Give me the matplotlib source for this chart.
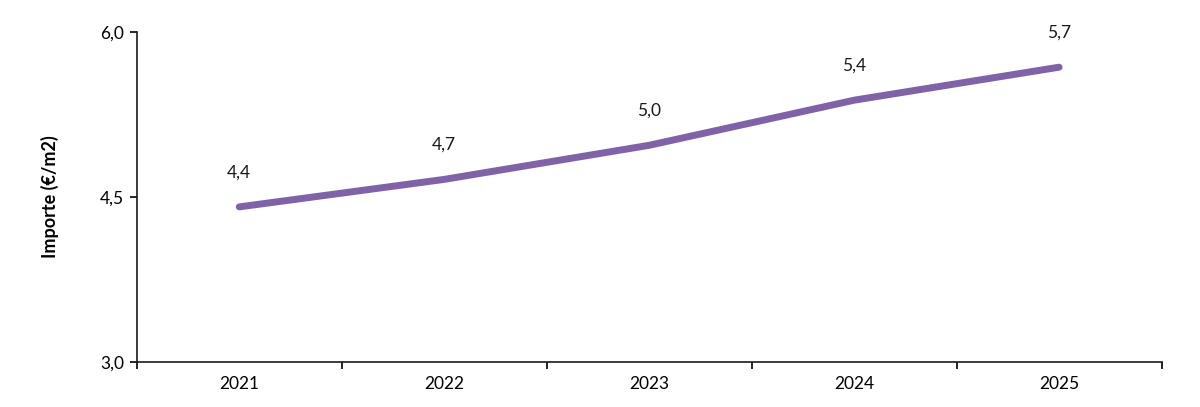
import matplotlib
matplotlib.use('Agg')
import matplotlib.pyplot as plt
from matplotlib.ticker import FixedLocator, FuncFormatter

years = ['2021', '2022', '2023', '2024', '2025']
importe = [4.41, 4.66, 4.97, 5.38, 5.68]
y_ticks = [3.0, 4.5, 6.0]

plt.rcParams['font.family'] = ['Lato', 'DejaVu Sans']

fig = plt.figure(figsize=(12, 4.07), dpi=100)
ax = fig.add_axes([0.114, 0.1106, 0.854, 0.8108])

x = list(range(len(years)))
ax.plot(x, importe, color='#7F62A8', linewidth=5, solid_capstyle='round')

for xi, v in zip(x, importe):
    ax.annotate(f'{v:.1f}'.replace('.', ','), (xi, v), xytext=(0, 25),
                textcoords='offset points', ha='center', va='center',
                fontsize=12.5, color='#1a1a1a')

ax.set_xlim(-0.5, len(years) - 0.5)
ax.set_ylim(3.0, 6.0)
ax.set_yticks(y_ticks)
ax.yaxis.set_major_formatter(FuncFormatter(lambda v, p: f'{v:.1f}'.replace('.', ',')))

ax.set_xticks(x)
ax.set_xticklabels(years)
ax.tick_params(axis='x', which='major', length=0, pad=10, labelsize=12.5)
ax.xaxis.set_minor_locator(FixedLocator([i - 0.5 for i in range(len(years) + 1)]))
ax.tick_params(axis='x', which='minor', length=5, width=1.2, direction='out')
ax.tick_params(axis='y', length=5, width=1.2, labelsize=12.5, pad=4)

for side in ['top', 'right']:
    ax.spines[side].set_visible(False)
for side in ['left', 'bottom']:
    ax.spines[side].set_linewidth(1.2)
    ax.spines[side].set_color('#1a1a1a')

ax.set_ylabel('Importe (€/m2)', fontsize=13, fontweight='bold', labelpad=30)

fig.savefig('out.png', dpi=100, facecolor='white')
